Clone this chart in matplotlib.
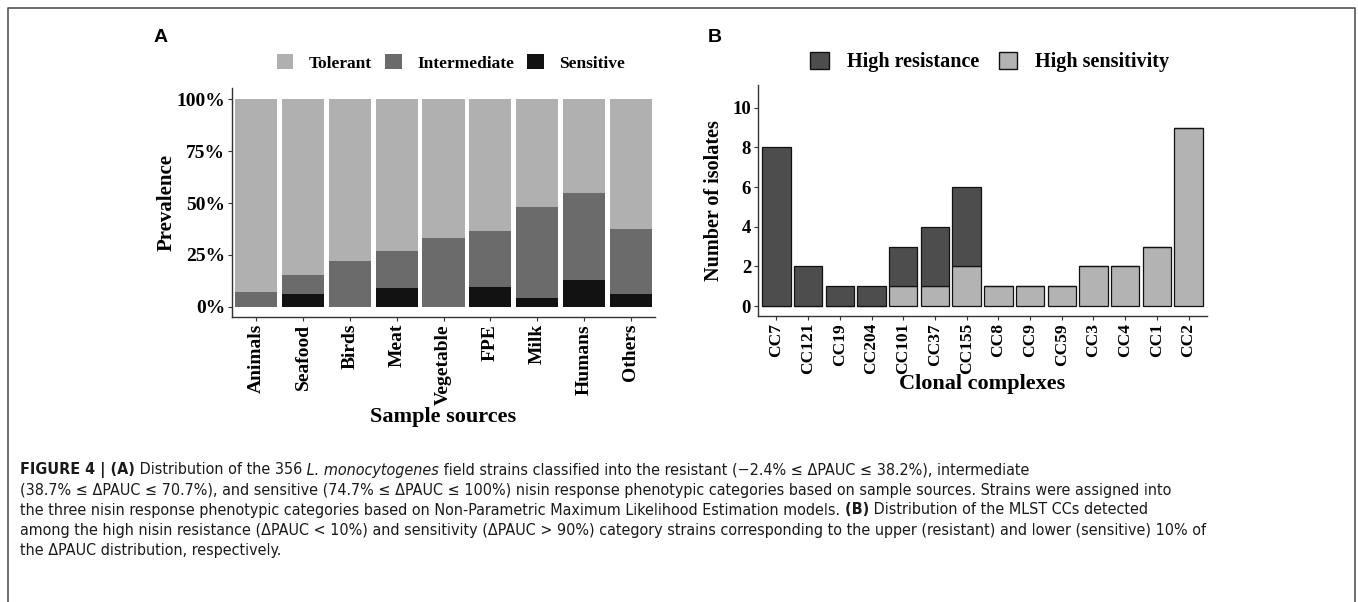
import numpy as np
import matplotlib
matplotlib.use("Agg")
import matplotlib.pyplot as plt
from matplotlib.patches import Patch
from matplotlib.lines import Line2D

# panel A data (% of strains per source)
sources = ["Animals", "Seafood", "Birds", "Meat", "Vegetable", "FPE", "Milk", "Humans", "Others"]
sensitive = [0, 6.0, 0, 8.9, 0, 9.7, 4.2, 12.9, 6.1]
intermediate = [7.0, 9.3, 22.0, 17.8, 33.0, 26.7, 43.8, 41.8, 31.4]
tolerant = [93.0, 84.7, 78.0, 73.3, 67.0, 63.6, 52.0, 45.3, 62.5]

# panel B data (number of isolates per clonal complex)
ccs = ["CC7", "CC121", "CC19", "CC204", "CC101", "CC37", "CC155",
       "CC8", "CC9", "CC59", "CC3", "CC4", "CC1", "CC2"]
high_sens = [0, 0, 0, 0, 1, 1, 2, 1, 1, 1, 2, 2, 3, 9]
high_res = [8, 2, 1, 1, 2, 3, 4, 0, 0, 0, 0, 0, 0, 0]

W, H = 1358, 602
fig = plt.figure(figsize=(W/100, H/100), dpi=100)
serif = "Liberation Serif"

def box(l, t, r, b):
    return [l/W, 1-b/H, (r-l)/W, (b-t)/H]

def style_ax(ax, xsize, ysize):
    for s in ["top", "right"]:
        ax.spines[s].set_visible(False)
    for s in ["left", "bottom"]:
        ax.spines[s].set_color("#333333")
        ax.spines[s].set_linewidth(1.0)
    ax.tick_params(length=3, width=0.8, color="#333333", pad=2)
    for lb in ax.get_xticklabels():
        lb.set_fontfamily(serif)
        lb.set_fontweight("bold")
        lb.set_fontsize(xsize)
    for lb in ax.get_yticklabels():
        lb.set_fontfamily(serif)
        lb.set_fontweight("bold")
        lb.set_fontsize(ysize)

# ---- panel A
c_tol, c_int, c_sen = "#b0b0b0", "#6b6b6b", "#121212"
axA = fig.add_axes(box(232, 88, 655, 317))
x = np.arange(len(sources))
s = np.array(sensitive) / 100
i = np.array(intermediate) / 100
t = np.array(tolerant) / 100
axA.bar(x, s, 0.9, color=c_sen)
axA.bar(x, i, 0.9, bottom=s, color=c_int)
axA.bar(x, t, 0.9, bottom=s+i, color=c_tol)
axA.set_xlim(-0.52, len(sources)-0.48)
axA.set_ylim(-0.05, 1.055)
axA.set_yticks([0, 0.25, 0.5, 0.75, 1.0])
axA.set_yticklabels(["0%", "25%", "50%", "75%", "100%"])
axA.set_xticks(x)
axA.set_xticklabels(sources, rotation=90)
style_ax(axA, 14, 14)
axA.set_ylabel("Prevalence", fontfamily=serif, fontweight="bold", fontsize=15, labelpad=0)
axA.set_xlabel("Sample sources", fontfamily=serif, fontweight="bold", fontsize=16, labelpad=2)

hA = [Patch(facecolor=c_tol, label="Tolerant"),
      Patch(facecolor=c_int, label="Intermediate"),
      Patch(facecolor=c_sen, label="Sensitive")]
fig.legend(handles=hA, loc="center", bbox_to_anchor=(451/W, 1-63/H), ncol=3,
           frameon=False, prop={"family": serif, "weight": "bold", "size": 12.5},
           handlelength=0.95, handleheight=0.95, handletextpad=0.9, columnspacing=0.75)

# ---- panel B
c_res, c_sns = "#4d4d4d", "#b3b3b3"
axB = fig.add_axes(box(758, 85, 1207, 316))
xb = np.arange(len(ccs))
axB.bar(xb, high_sens, 0.9, color=c_sns, edgecolor="#111111", linewidth=0.9)
axB.bar(xb, high_res, 0.9, bottom=high_sens, color=c_res, edgecolor="#111111", linewidth=0.9)
axB.set_xlim(-0.58, len(ccs)-0.42)
axB.set_ylim(-0.5, 11.15)
axB.set_yticks([0, 2, 4, 6, 8, 10])
axB.set_xticks(xb)
axB.set_xticklabels(ccs, rotation=90)
style_ax(axB, 12.5, 13.5)
axB.set_ylabel("Number of isolates", fontfamily=serif, fontweight="bold", fontsize=14.5, labelpad=6)
axB.set_xlabel("Clonal complexes", fontfamily=serif, fontweight="bold", fontsize=16, labelpad=0)

hB = [Patch(facecolor=c_res, edgecolor="#111111", label="High resistance"),
      Patch(facecolor=c_sns, edgecolor="#111111", label="High sensitivity")]
fig.legend(handles=hB, loc="center", bbox_to_anchor=(990/W, 1-62/H), ncol=2,
           frameon=False, prop={"family": serif, "weight": "bold", "size": 14.5},
           handlelength=0.9, handleheight=0.9, handletextpad=0.9, columnspacing=1.0)

# panel letters
fig.text(161/W, 1-37/H, "A", fontfamily="Liberation Sans", fontweight="bold", fontsize=14, ha="center", va="center")
fig.text(715/W, 1-37/H, "B", fontfamily="Liberation Sans", fontweight="bold", fontsize=14, ha="center", va="center")

# outer frame (left, top, right)
fx = [8/W, 8/W, 1355/W, 1355/W]
fy = [0, 1-8/H, 1-8/H, 0]
fig.add_artist(Line2D(fx, fy, transform=fig.transFigure, color="#555555", linewidth=1.2))

# ---- caption
cap_kw = dict(fontfamily="DejaVu Sans", fontstretch="condensed", fontsize=11.5,
              color="#1a1a1a", va="center", ha="left")
renderer = fig.canvas.get_renderer()

def cap_line(y, segs):
    xpos = 20/W
    for txt, extra in segs:
        tt = fig.text(xpos, 1-y/H, txt, **cap_kw, **extra)
        bb = tt.get_window_extent(renderer)
        xpos = bb.x1 / fig.bbox.width

B = {"fontweight": "bold"}
N = {}
I = {"fontstyle": "italic"}
cap_line(470, [("FIGURE 4 | (A)", B), (" Distribution of the 356", N), (" L. monocytogenes", I),
               (" field strains classified into the resistant (\u22122.4% \u2264 \u0394PAUC \u2264 38.2%), intermediate", N)])
cap_line(490, [("(38.7% \u2264 \u0394PAUC \u2264 70.7%), and sensitive (74.7% \u2264 \u0394PAUC \u2264 100%) nisin response phenotypic categories based on sample sources. Strains were assigned into", N)])
cap_line(510, [("the three nisin response phenotypic categories based on Non-Parametric Maximum Likelihood Estimation models.", N),
               (" (B)", B), (" Distribution of the MLST CCs detected", N)])
cap_line(530, [("among the high nisin resistance (\u0394PAUC < 10%) and sensitivity (\u0394PAUC > 90%) category strains corresponding to the upper (resistant) and lower (sensitive) 10% of", N)])
cap_line(550, [("the \u0394PAUC distribution, respectively.", N)])

fig.savefig("out.png", dpi=100)
